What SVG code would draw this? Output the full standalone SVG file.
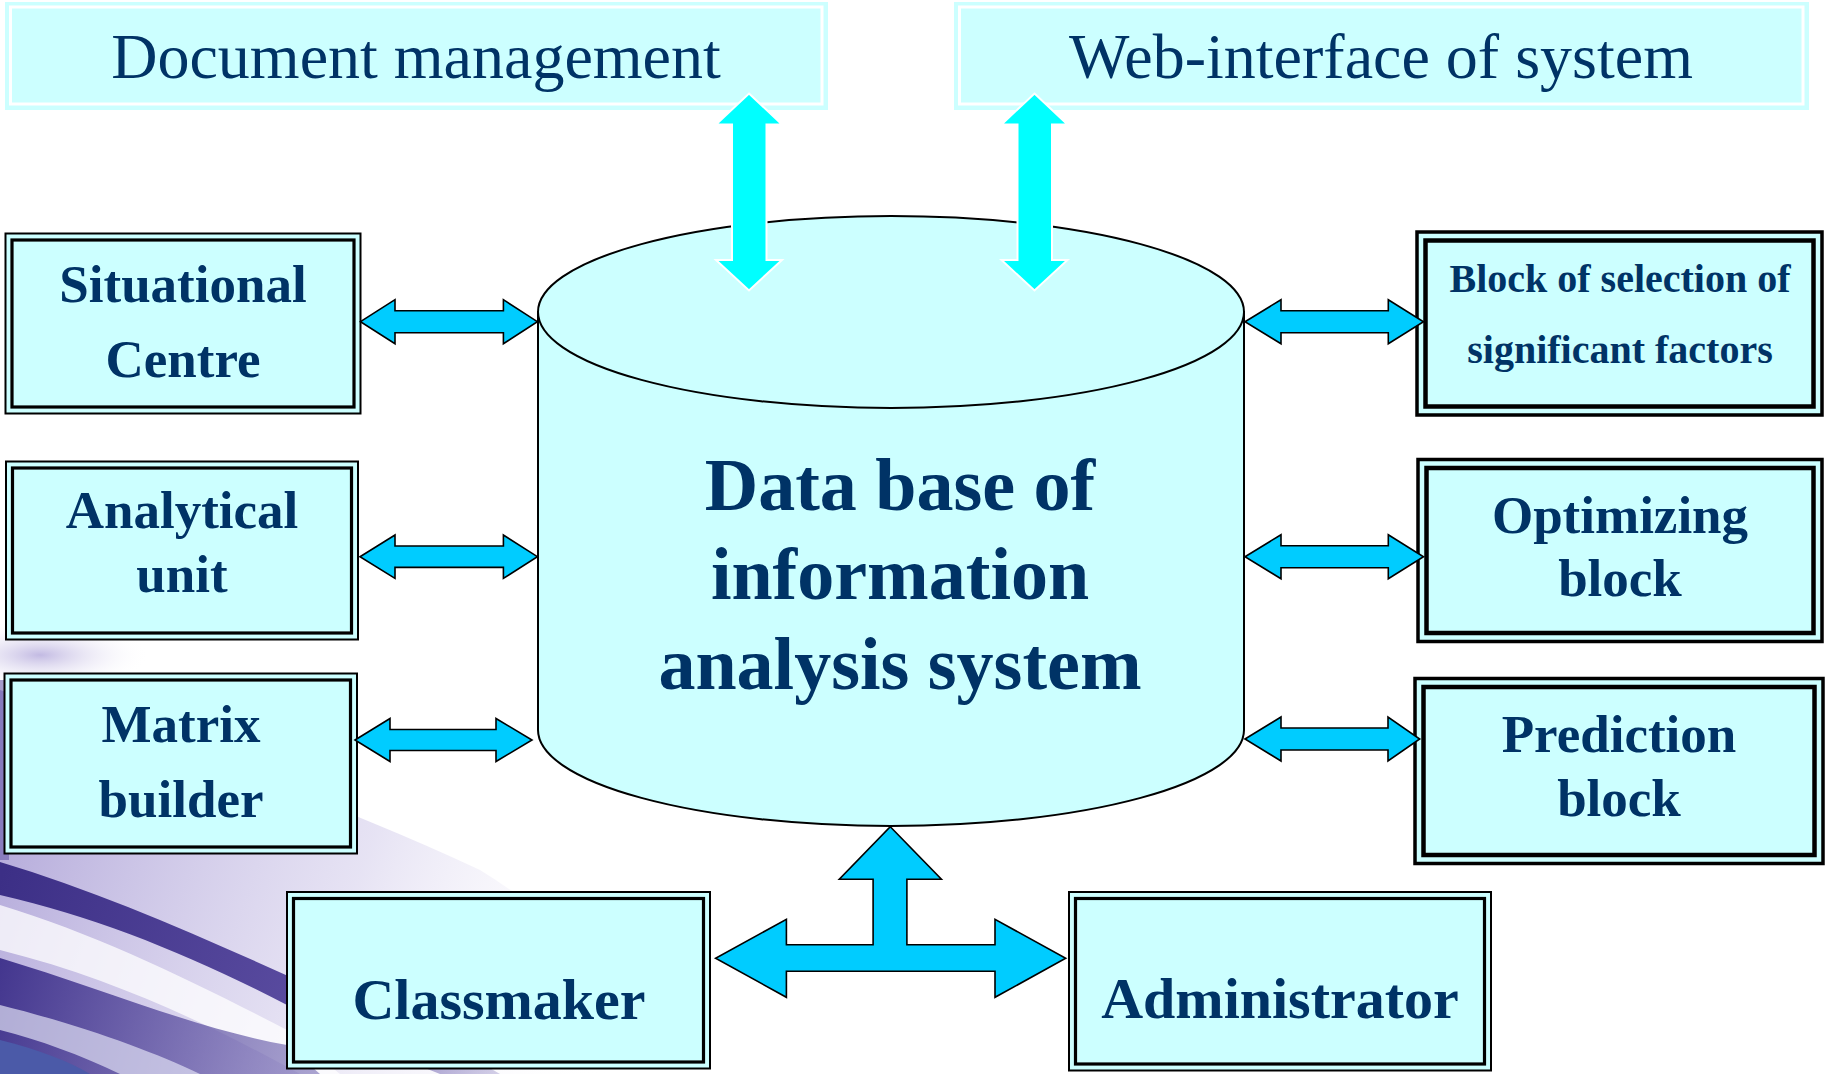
<svg xmlns="http://www.w3.org/2000/svg" width="1825" height="1074" viewBox="0 0 1825 1074">
<defs>
<style>
.bx{fill:#CCFFFF;stroke:#000;stroke-width:2}
.bi{fill:none;stroke:#000;stroke-width:3.2}
.bxr{fill:#CCFFFF;stroke:#000;stroke-width:3.5}
.bir{fill:none;stroke:#000;stroke-width:4.5}
.tb{fill:#CCFFFF;stroke:#CCFFFF;stroke-width:2}
.tbi{fill:none;stroke:#fff;stroke-width:3}
.t{font-family:"Liberation Serif","Times New Roman",serif;fill:#003366;text-anchor:middle}
.b{font-weight:bold}
.arr{fill:#00CCFF;stroke:#000;stroke-width:1.6;stroke-linejoin:miter}
.arrc{fill:#00FFFF;stroke:#fff;stroke-width:2}
</style>
<linearGradient id="haze" gradientUnits="userSpaceOnUse" x1="0" y1="760" x2="640" y2="1000">
<stop offset="0" stop-color="#9d90cf" stop-opacity="0.8"/>
<stop offset="0.55" stop-color="#c8c0e6" stop-opacity="0.45"/>
<stop offset="1" stop-color="#ffffff" stop-opacity="0"/>
</linearGradient>
<linearGradient id="dark" gradientUnits="userSpaceOnUse" x1="0" y1="880" x2="520" y2="1060">
<stop offset="0" stop-color="#3c2f86"/>
<stop offset="0.6" stop-color="#5a4ca0"/>
<stop offset="1" stop-color="#8a7fc0" stop-opacity="0.3"/>
</linearGradient>
<linearGradient id="dark2" gradientUnits="userSpaceOnUse" x1="0" y1="960" x2="360" y2="1074">
<stop offset="0" stop-color="#43368e"/>
<stop offset="1" stop-color="#6f64b0" stop-opacity="0.5"/>
</linearGradient>
<radialGradient id="puff" cx="0.5" cy="0.5" r="0.5">
<stop offset="0" stop-color="#a89cd6" stop-opacity="0.7"/>
<stop offset="1" stop-color="#ffffff" stop-opacity="0"/>
</radialGradient>
</defs>

<g id="background">
<rect x="0" y="0" width="1825" height="1074" fill="#fff"/>
<ellipse cx="40" cy="655" rx="110" ry="35" fill="url(#puff)"/>
<path d="M0,690 C160,740 330,800 480,870 C560,920 640,990 700,1074 L0,1074 Z" fill="url(#haze)"/>
<path d="M0,680 L9,680 L9,860 L0,860 Z" fill="#6a5caa" opacity="0.6"/>
<path d="M0,862 C110,895 220,945 330,995 C400,1025 460,1050 500,1074 L440,1074 C380,1050 330,1030 287,1005 C190,955 100,918 0,895 Z" fill="url(#dark)"/>
<path d="M0,905 C100,935 200,985 287,1030 L340,1074 L300,1074 C220,1030 120,980 0,950 Z" fill="#ffffff" opacity="0.75"/>
<path d="M0,958 C100,988 200,1030 287,1045 L320,1074 L0,1074 Z" fill="url(#dark2)"/>
<path d="M0,1005 C80,1025 150,1050 200,1074 L120,1074 C80,1055 40,1040 0,1030 Z" fill="#dfe0f4" opacity="0.7"/>
<path d="M0,1040 C40,1050 70,1062 90,1074 L0,1074 Z" fill="#4b5aa8"/>
</g>

<g id="doc-management">
<rect class="tb" x="6" y="3" width="821" height="106"/>
<rect class="tbi" x="10.5" y="7" width="811.5" height="97"/>
<text class="t" x="416" y="78" font-size="64">Document management</text>
</g>

<g id="web-interface">
<rect class="tb" x="955" y="3" width="853" height="106"/>
<rect class="tbi" x="959.5" y="7" width="843.5" height="97"/>
<text class="t" x="1381" y="78" font-size="64">Web-interface of system</text>
</g>

<g id="database">
<path d="M538,312 L538,730 A353,96 0 0 0 1244,730 L1244,312 Z" fill="#CCFFFF" stroke="#000" stroke-width="2"/>
<ellipse cx="891" cy="312" rx="353" ry="96" fill="#CCFFFF" stroke="#000" stroke-width="2"/>
<text class="t b" x="900" y="510" font-size="74">Data base of</text>
<text class="t b" x="900" y="599" font-size="74">information</text>
<text class="t b" x="900" y="689" font-size="74">analysis system</text>
</g>

<g id="situational-centre">
<rect class="bx" x="5.5" y="233.5" width="355" height="180"/>
<rect class="bi" x="12" y="240" width="342" height="167"/>
<text class="t b" x="183" y="302" font-size="53">Situational</text>
<text class="t b" x="183" y="377" font-size="53">Centre</text>
</g>

<g id="analytical-unit">
<rect class="bx" x="6" y="461.5" width="352" height="178"/>
<rect class="bi" x="12.5" y="468" width="339" height="165"/>
<text class="t b" x="182" y="528" font-size="53">Analytical</text>
<text class="t b" x="182" y="592" font-size="53">unit</text>
</g>

<g id="matrix-builder">
<rect class="bx" x="4.5" y="673.5" width="352.5" height="180"/>
<rect class="bi" x="11" y="680" width="339.5" height="167"/>
<text class="t b" x="181" y="742" font-size="53">Matrix</text>
<text class="t b" x="181" y="817" font-size="53">builder</text>
</g>

<g id="block-selection">
<rect class="bxr" x="1417" y="232" width="405" height="183"/>
<rect class="bir" x="1425.5" y="240.5" width="388" height="166"/>
<text class="t b" x="1620" y="292" font-size="40">Block of selection of</text>
<text class="t b" x="1620" y="363" font-size="40">significant factors</text>
</g>

<g id="optimizing-block">
<rect class="bxr" x="1418" y="459.5" width="404" height="182"/>
<rect class="bir" x="1426.5" y="468" width="387" height="165"/>
<text class="t b" x="1620" y="533" font-size="53">Optimizing</text>
<text class="t b" x="1620" y="596" font-size="53">block</text>
</g>

<g id="prediction-block">
<rect class="bxr" x="1415" y="678.5" width="408" height="185"/>
<rect class="bir" x="1423.5" y="687" width="391" height="168"/>
<text class="t b" x="1619" y="752" font-size="53">Prediction</text>
<text class="t b" x="1619" y="816" font-size="53">block</text>
</g>

<g id="classmaker">
<rect class="bx" x="287" y="892" width="423" height="176.5"/>
<rect class="bi" x="293.5" y="898.5" width="410" height="163.5"/>
<text class="t b" x="499" y="1019" font-size="58">Classmaker</text>
</g>

<g id="administrator">
<rect class="bx" x="1069" y="892" width="422" height="178.5"/>
<rect class="bi" x="1075.5" y="898.5" width="409" height="165.5"/>
<text class="t b" x="1280" y="1018" font-size="58">Administrator</text>
</g>

<g id="connectors">
<path class="arrc" d="M749,93.5 L782,124.5 L766.5,124.5 L766.5,260 L782,260 L749,290.5 L716,260 L732,260 L732,124.5 L716,124.5 Z"/>
<path class="arrc" d="M1034.5,93.5 L1067.5,124.5 L1052,124.5 L1052,260 L1067.5,260 L1034.5,290.5 L1001.5,260 L1017.5,260 L1017.5,124.5 L1001.5,124.5 Z"/>

<path class="arr" d="M360.5,321.7 L395,299.7 L395,310.7 L503.4,310.7 L503.4,299.7 L537.4,321.7 L503.4,343.7 L503.4,332.7 L395,332.7 L395,343.7 Z"/>
<path class="arr" d="M360,556.7 L395,535 L395,546 L503.4,546 L503.4,535 L537.4,556.7 L503.4,578.4 L503.4,567.4 L395,567.4 L395,578.4 Z"/>
<path class="arr" d="M355,740 L390,718.5 L390,729.5 L496,729.5 L496,718.5 L532,740 L496,761.5 L496,750.5 L390,750.5 L390,761.5 Z"/>

<path class="arr" d="M1245,321.7 L1281,299.7 L1281,310.7 L1388.3,310.7 L1388.3,299.7 L1423.5,321.7 L1388.3,343.7 L1388.3,332.7 L1281,332.7 L1281,343.7 Z"/>
<path class="arr" d="M1245,556.7 L1281,534.7 L1281,545.7 L1388.3,545.7 L1388.3,534.7 L1423.5,556.7 L1388.3,578.7 L1388.3,567.7 L1281,567.7 L1281,578.7 Z"/>
<path class="arr" d="M1245,739 L1281,717 L1281,728 L1388,728 L1388,717 L1419.7,739 L1388,761 L1388,750 L1281,750 L1281,761 Z"/>

<path class="arr" d="M890.3,826.7 L941.4,879.3 L906.9,879.3 L906.9,944.7 L995,944.7 L995,919.3 L1065.7,958.3 L995,997.3 L995,971.3 L786.4,971.3 L786.4,997.3 L715.6,958.3 L786.4,919.3 L786.4,944.7 L873.1,944.7 L873.1,879.3 L839.3,879.3 Z"/>
</g>
</svg>
